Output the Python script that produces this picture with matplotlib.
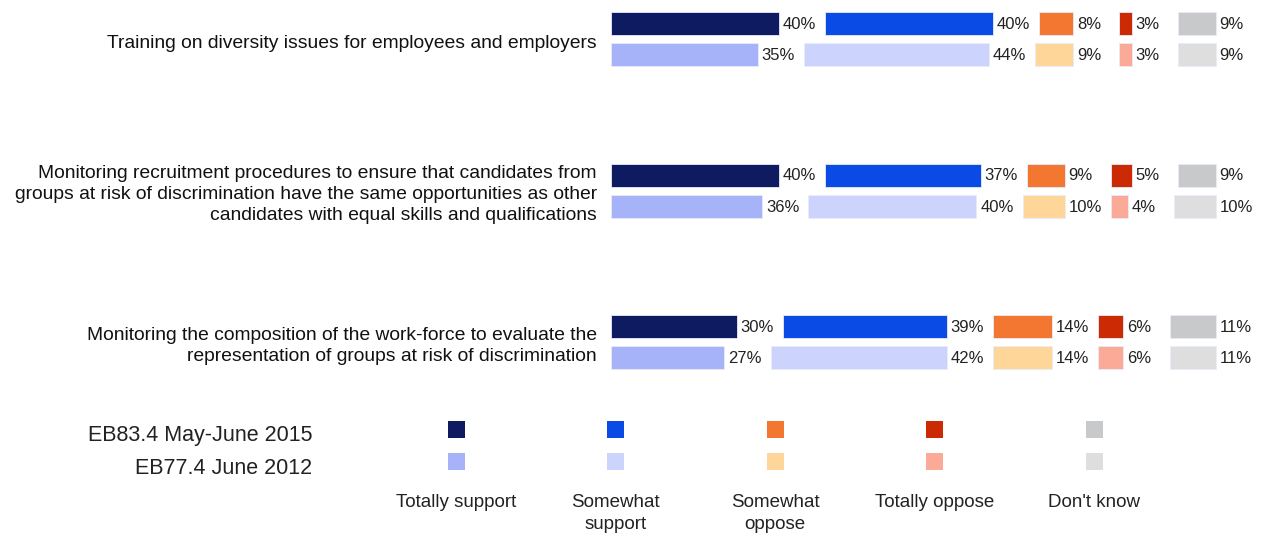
import numpy as np
import matplotlib
matplotlib.use('Agg')
import matplotlib.pyplot as plt

plt.rcParams['font.family'] = ['Liberation Sans', 'DejaVu Sans']

W, H = 1261, 533

items = [
    'Training on diversity issues for employees and employers',
    'Monitoring recruitment procedures to ensure that candidates from\n'
    'groups at risk of discrimination have the same opportunities as other\n'
    'candidates with equal skills and qualifications',
    'Monitoring the composition of the work-force to evaluate the\n'
    'representation of groups at risk of discrimination',
]
waves = ['EB83.4 May-June 2015', 'EB77.4 June 2012']
answers = ['Totally support', 'Somewhat\nsupport', 'Somewhat\noppose',
           'Totally oppose', "Don't know"]

# values per item: 2015 row and 2012 row
vals_2015 = [
    [40, 40, 8, 3, 9],
    [40, 37, 9, 5, 9],
    [30, 39, 14, 6, 11],
]
vals_2012 = [
    [35, 44, 9, 3, 9],
    [36, 40, 10, 4, 10],
    [27, 42, 14, 6, 11],
]

colors_2015 = ['#0F1B61', '#0A4AE5', '#F47731', '#CC2A05', '#C8C9CB']
colors_2012 = ['#A6B3F8', '#CCD3FC', '#FFD69A', '#FBAA97', '#DEDEDE']

# layout (pixels)
x0 = 611
px_per_pct = 4.2
gap = 11          # gap between segments, in % units
group_step = 151.5
row_step = 31
first_y = 23.5
bar_h = 23

fig = plt.figure(figsize=(W / 100, H / 100), dpi=100)

ax = fig.add_axes([x0 / W, 0, (W - x0) / W, 1])
ax.set_xlim(0, (W - x0) / px_per_pct)
ax.set_ylim(H, 0)
ax.axis('off')

ov = fig.add_axes([0, 0, 1, 1], zorder=-1)
ov.set_xlim(0, W)
ov.set_ylim(H, 0)
ov.axis('off')

for g, item in enumerate(items):
    yc = first_y + g * group_step
    for r, (vals, cols) in enumerate([(vals_2015[g], colors_2015),
                                      (vals_2012[g], colors_2012)]):
        y = yc + r * row_step
        left = 0
        for v, c in zip(vals, cols):
            ax.barh(y, v, left=left, height=bar_h, color=c,
                    edgecolor='#E8ECFA', linewidth=0.6)
            ax.text(left + v + 0.9, y + 1, f'{v}%', ha='left', va='center',
                    fontsize=12, color='#222222')
            left += v + gap
    ov.text(597, yc + row_step / 2 + 4, item, ha='right', va='center',
            fontsize=13.9, color='#111111', linespacing=1.27)

# legend
leg_x = [456 + i * 159.5 for i in range(len(answers))]
for i, lab in enumerate(answers):
    ov.bar(leg_x[i], 17, width=17, bottom=421, color=colors_2015[i],
           edgecolor='none')
    ov.bar(leg_x[i], 17, width=17, bottom=453, color=colors_2012[i],
           edgecolor='none')
    ov.text(leg_x[i], 494, lab, ha='center', va='top', fontsize=13.5,
            color='#222222', linespacing=1.38)

ov.text(312, 436, waves[0], ha='right', va='center', fontsize=15.5,
        color='#222222')
ov.text(312, 468, waves[1], ha='right', va='center', fontsize=15.5,
        color='#222222')

fig.savefig('out.png', dpi=100, facecolor='white')
